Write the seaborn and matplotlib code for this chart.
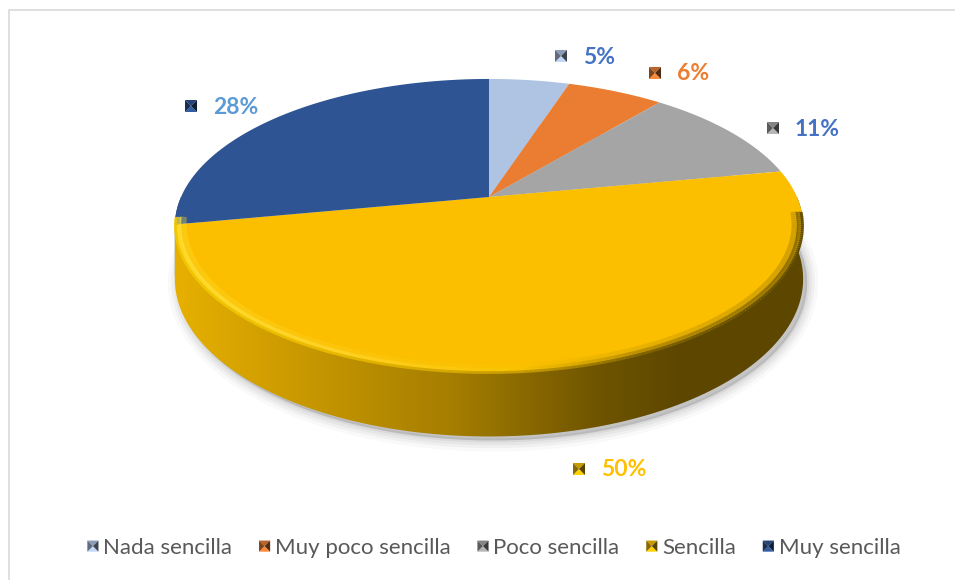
import numpy as np
import seaborn as sns
import matplotlib.pyplot as plt
import matplotlib.transforms as mtransforms
from matplotlib.path import Path
from matplotlib.patches import Patch, Polygon
from matplotlib.collections import LineCollection
from matplotlib.legend_handler import HandlerBase
from matplotlib.colors import to_rgb

# data
categories = ['Nada sencilla', 'Muy poco sencilla', 'Poco sencilla', 'Sencilla', 'Muy sencilla']
values = [5, 6, 11, 50, 28]
pct_labels = ['5%', '6%', '11%', '50%', '28%']

# style
slice_colors = ['#AFC3E3', '#EA7D31', '#A5A5A5', '#FBBF00', '#2E5494']
label_colors = ['#4472C4', '#ED7D31', '#4472C4', '#FFC000', '#5B9BD5']
label_xy = [(583, 56), (677, 73), (795, 128), (601, 469), (213, 106)]

# perspective of the 3d pie (pixel units)
CX, CY = 489, 197
A, B, P = 308, 141.3, 0.197
DEPTH = 51

sns.set_theme(style="white")
plt.rcParams['font.family'] = ['Lato', 'DejaVu Sans']


def project(X, Y, dz=0.0):
    w = 1 + P * Y
    return CX + A * X / w, CY + (-B * Y + dz) / w


class Tilt(mtransforms.Transform):
    """circle coords -> tilted disc in pixel coords"""
    input_dims = 2
    output_dims = 2
    is_separable = False
    has_inverse = False

    def __init__(self, dz=0.0):
        super().__init__()
        self.dz = dz

    def transform_non_affine(self, values):
        values = np.asarray(values, dtype=float)
        x, y = project(values[:, 0], values[:, 1], self.dz)
        return np.column_stack([x, y])

    def transform_path_non_affine(self, path):
        polys = path.to_polygons(transform=mtransforms.Affine2D().scale(1000), closed_only=False)
        verts = np.concatenate(polys) / 1000.0
        return Path(self.transform_non_affine(verts), closed=True)


def shade(c, f):
    r, g, b = to_rgb(c)
    return (min(r * f, 1), min(g * f, 1), min(b * f, 1))


def pyramid_patches(x, y, s, color, trans, up=-1):
    h = s / 2
    tl, tr = (x - h, y - up * h), (x + h, y - up * h)
    bl, br = (x - h, y + up * h), (x + h, y + up * h)
    c = (x, y)
    parts = [([tl, tr, c], 1.1), ([bl, br, c], 0.8), ([tl, bl, c], 0.55), ([tr, br, c], 0.35)]
    out = []
    for pts, f in parts:
        out.append(Polygon(pts, closed=True, facecolor=shade(color, f), edgecolor='none', transform=trans))
    return out


class PyramidHandler(HandlerBase):
    def create_artists(self, legend, orig_handle, xdescent, ydescent, width, height, fontsize, trans):
        s = min(width, height)
        x0 = -xdescent + (width - s) / 2
        y0 = -ydescent + (height - s) / 2
        return pyramid_patches(x0 + s / 2, y0 + s / 2, s, orig_handle.get_facecolor(), trans, up=1)


fig = plt.figure(figsize=(9.55, 5.8), dpi=100)
ax = fig.add_axes([0, 0, 1, 1])

wedges, _ = ax.pie(values, colors=slice_colors, startangle=90, counterclock=False,
                   wedgeprops=dict(linewidth=0))
for w in wedges:
    w.set_transform(Tilt(0) + ax.transData)
    w.set_zorder(3)

# soft shadow under the disc
tt = np.linspace(0, 2 * np.pi, 300)
sx, sy = project(np.cos(tt), np.sin(tt), DEPTH)
for lw, al in [(16, 0.025), (11, 0.035), (7, 0.04), (3, 0.05)]:
    ax.fill(sx + 4, sy + 4, facecolor=(0, 0, 0, al), edgecolor=(0, 0, 0, al), linewidth=lw, zorder=1)


# side walls, front half only
def wall_shade(x):
    return np.interp(x, [175, 300, 450, 600, 680, 810], [0.92, 0.8, 0.66, 0.44, 0.37, 0.37])


walls = []
for w, col in zip(wedges, slice_colors):
    for k in (-360, 0, 360):
        lo, hi = max(w.theta1, -180 + k), min(w.theta2, 0 + k)
        if hi > lo:
            t = np.radians(np.linspace(lo, hi, 120))
            walls.append((-np.mean(np.sin(t)), t, col))
walls.sort(key=lambda r: r[0])

gx = np.linspace(160, 820, 400)
for _, t, col in walls:
    xt, yt = project(np.cos(t), np.sin(t), 0)
    xb, yb = project(np.cos(t), np.sin(t), DEPTH)
    poly = Polygon(np.column_stack([np.r_[xt, xb[::-1]], np.r_[yt, yb[::-1]]]),
                   closed=True, facecolor='none', edgecolor='none', zorder=2)
    ax.add_patch(poly)
    img = np.array([[shade(col, f) for f in wall_shade(gx)]])
    im = ax.imshow(img, extent=(160, 820, 470, 150), aspect='auto', zorder=2, interpolation='bilinear')
    im.set_clip_path(poly)

# bevel along the front rim: a soft band, bright on the left, dark on the right
t = np.radians(np.linspace(-172, -6, 220))
stops_x = [175, 330, 520, 640, 800]
bands = [
    (0.975, 5, 0.35, ['#FFE030', '#FFD020', '#FBC200', '#C89A00', '#8A6A00']),
    (0.988, 3.5, 0.7, ['#FFE640', '#FFD830', '#F8C400', '#A88200', '#6E5500']),
    (0.998, 2.0, 1.0, ['#F2C800', '#E8B800', '#C89C00', '#806300', '#5E4A00']),
]
for r, lw, al, cols in bands:
    hx, hy = project(r * np.cos(t), r * np.sin(t), 0)
    pts = np.column_stack([hx, hy]).reshape(-1, 1, 2)
    segs = np.concatenate([pts[:-1], pts[1:]], axis=1)
    mx = (hx[:-1] + hx[1:]) / 2
    rgb = [to_rgb(c) for c in cols]
    seg_cols = np.column_stack([np.interp(mx, stops_x, [c[i] for c in rgb]) for i in range(3)]
                               + [np.full(len(mx), al)])
    ax.add_collection(LineCollection(segs, colors=seg_cols, linewidths=lw, zorder=4, capstyle='butt'))

# data labels
for (x, y), txt, col, sc in zip(label_xy, pct_labels, label_colors, slice_colors):
    for p in pyramid_patches(x - 22, y, 12, sc, ax.transData):
        p.set_zorder(5)
        ax.add_patch(p)
    ax.text(x, y + 1, txt, color=col, fontsize=16.5, fontweight='bold', ha='left', va='center', zorder=5)

# legend
handles = [Patch(facecolor=c, label=l) for c, l in zip(slice_colors, categories)]
ax.legend(handles=handles, handler_map={Patch: PyramidHandler()}, loc='center',
          bbox_to_anchor=(494 / 955, 1 - 548 / 580), ncol=5, frameon=False,
          fontsize=16, labelcolor='#595959', handlelength=0.5, handleheight=0.5,
          handletextpad=0.22, columnspacing=1.2, borderpad=0)

# chart area border (left and top only visible)
ax.plot([9, 9, 960], [585, 10, 10], color='#D9D9D9', linewidth=1.2, zorder=0)

ax.set_xlim(0, 955)
ax.set_ylim(580, 0)
ax.set_aspect('auto')
ax.axis('off')

fig.savefig('out.png', dpi=100)
